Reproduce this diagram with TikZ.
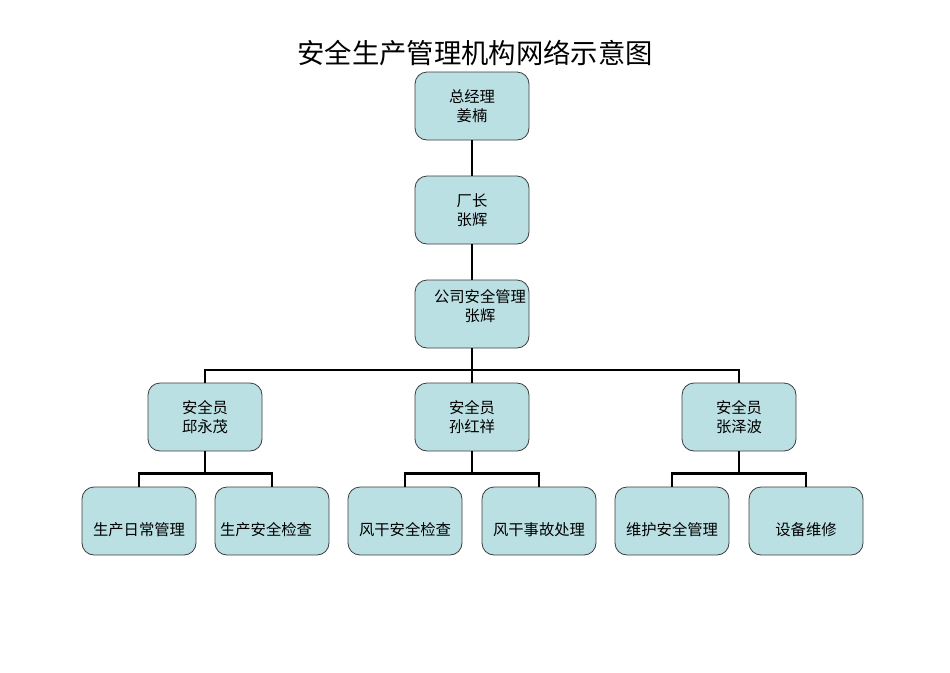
\documentclass[tikz,border=0pt]{standalone}
\usepackage{fontspec}
\setmainfont{Noto Sans CJK SC}
\definecolor{boxfill}{RGB}{187,224,227}
\definecolor{boxline}{RGB}{60,60,60}
\begin{document}
\begin{tikzpicture}[x=0.75pt,y=-0.75pt,
  box/.style={draw=boxline,line width=0.6pt,fill=boxfill,rounded corners=9pt,
    minimum width=85.5pt,minimum height=51pt,inner sep=0pt,align=center,
    font=\fontsize{11.5}{14}\selectfont},
  lowbox/.style={box,text depth=-13.5pt},
  conn/.style={line width=1.8pt,black}]
\useasboundingbox (0,0) rectangle (950,672);
\node[font=\fontsize{20.5}{24}\selectfont] (title) at (475,53) {安全生产管理机构网络示意图};
\node[box] (gm) at (472,106) {总经理\\姜楠};
\node[box] (fz) at (472,210) {厂长\\张辉};
\node[box] (gs) at (472,314) {};
\node[align=center,font=\fontsize{11.5}{14}\selectfont,anchor=center] (gst) at (480,306) {公司安全管理\\张辉};
\node[box] (a1) at (205,417) {安全员\\邱永茂};
\node[box] (a2) at (472,417) {安全员\\孙红祥};
\node[box] (a3) at (739,417) {安全员\\张泽波};
\node[box] (b1) at (139,521) {};
\node[box] (b2) at (272,521) {};
\node[box] (b3) at (405,521) {};
\node[box] (b4) at (539,521) {};
\node[box] (b5) at (672,521) {};
\node[box] (b6) at (806,521) {};
\tikzset{lbl/.style={font=\fontsize{11.5}{14}\selectfont}}
\node[lbl] (t1) at (139,530) {生产日常管理};
\node[lbl] (t2) at (266,530) {生产安全检查};
\node[lbl] (t3) at (405,530) {风干安全检查};
\node[lbl] (t4) at (539,530) {风干事故处理};
\node[lbl] (t5) at (672,530) {维护安全管理};
\node[lbl] (t6) at (806,530) {设备维修};
\coordinate (bus) at (472,370);
\draw[conn] (gm) -- (fz);
\draw[conn] (fz) -- (gs);
\draw[conn] (gs.south) -- (bus);
\draw[conn] (a1.north) |- (bus) -| (a3.north);
\draw[conn] (bus) -- (a2.north);
\draw[conn] (a1.south) -- ++(0,22) coordinate (c1);
\draw[conn] (b1.north) |- (c1) -| (b2.north);
\draw[conn] (a2.south) -- ++(0,22) coordinate (c2);
\draw[conn] (b3.north) |- (c2) -| (b4.north);
\draw[conn] (a3.south) -- ++(0,22) coordinate (c3);
\draw[conn] (b5.north) |- (c3) -| (b6.north);
\end{tikzpicture}
\end{document}
